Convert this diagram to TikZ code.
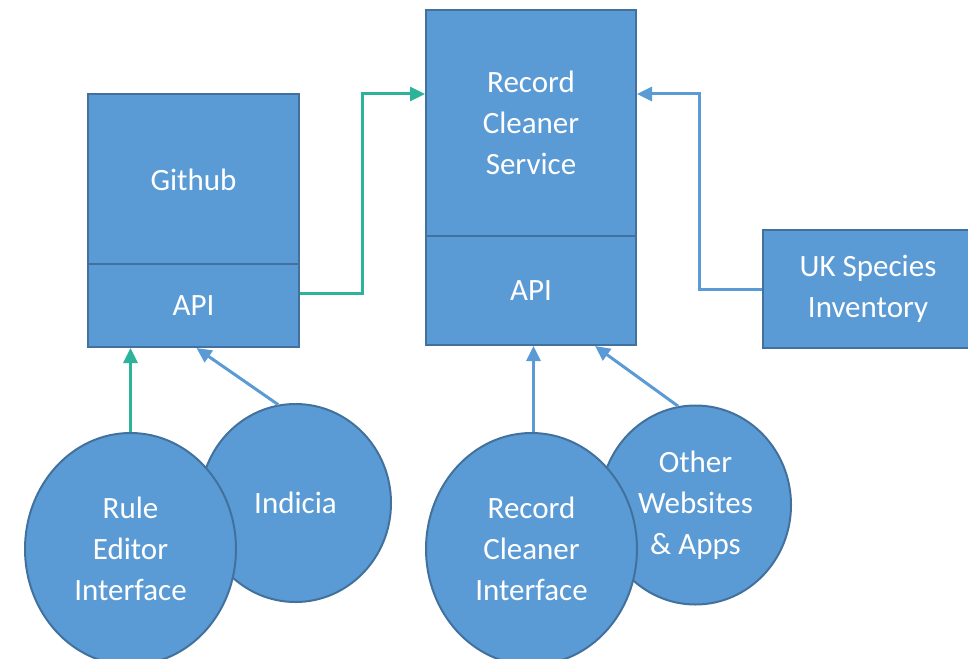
\documentclass[tikz,border=0pt]{standalone}
\usepackage{fontspec}
\setmainfont{Carlito}
\usetikzlibrary{shapes.geometric,arrows.meta,calc}
\definecolor{boxfill}{HTML}{5B9BD5}
\definecolor{boxline}{HTML}{41719C}
\definecolor{greenarrow}{HTML}{2DB39A}
\definecolor{bluearrow}{HTML}{5B9BD5}
\tikzset{
  box/.style={draw=boxline, fill=boxfill, line width=2pt, rectangle, inner sep=0pt,
    text=white, align=center, font=\fontsize{31}{41}\selectfont},
  blob/.style={draw=boxline, fill=boxfill, line width=2pt, ellipse, inner sep=0pt,
    text=white, align=center, font=\fontsize{31}{41}\selectfont},
  garrow/.style={draw=greenarrow, line width=3pt, -{Triangle[length=15pt,width=14pt]}},
  barrow/.style={draw=bluearrow, line width=3pt, -{Triangle[length=15pt,width=14pt]}},
}
\begin{document}
\begin{tikzpicture}[x=1pt,y=-1pt]
\useasboundingbox (0,0) rectangle (968,658);
\clip (0,0) rectangle (968,658);
% boxes
\node[box, minimum width=211pt, minimum height=170pt] (gh) at (193.5,179.5) {Github};
\node[box, minimum width=211pt, minimum height=83pt] (gapi) at (193.5,305.5) {API};
\node[box, minimum width=210pt, minimum height=226pt] (rcs) at (531,123) {Record\\Cleaner\\Service};
\node[box, minimum width=210pt, minimum height=109pt] (rapi) at (531,290.5) {API};
\node[box, minimum width=210pt, minimum height=118pt] (uk) at (868,289) {UK Species\\Inventory};
% ellipses
\node[blob, minimum width=191pt, minimum height=198pt] (ind) at (295.5,503) {Indicia};
\node[blob, minimum width=211pt, minimum height=232pt] (rei) at (130.5,549) {Rule\\Editor\\Interface};
\node[blob, minimum width=191pt, minimum height=199pt] (oth) at (695.5,505) {Other\\Websites\\\& Apps};
\node[blob, minimum width=211pt, minimum height=232pt] (rci) at (531.5,549) {Record\\Cleaner\\Interface};
% helper coordinates
\coordinate (gout) at ($(gapi.east)+(0,-12)$);
\coordinate (rin) at ($(rcs.north west)+(0,85)$);
\coordinate (rinE) at ($(rcs.north east)+(0,85)$);
% connectors
\draw[garrow] (gout) -| ($(gout)!.5!(rin)$) |- (rin);
\draw[barrow] (uk.west) -| ($(uk.west)!.5!(rinE)$) |- (rinE);
\draw[garrow] (rei.north) -- (rei.north |- gapi.south);
\draw[barrow] (ind.100) -- ($(gapi.south)+(3,0)$);
\draw[barrow] ($(rci.north)+(2,0)$) -- ($(rci.north |- rapi.south)+(2,0)$);
\draw[barrow] (oth.100) -- ($(rapi.south)+(64,0)$);
\end{tikzpicture}
\end{document}
